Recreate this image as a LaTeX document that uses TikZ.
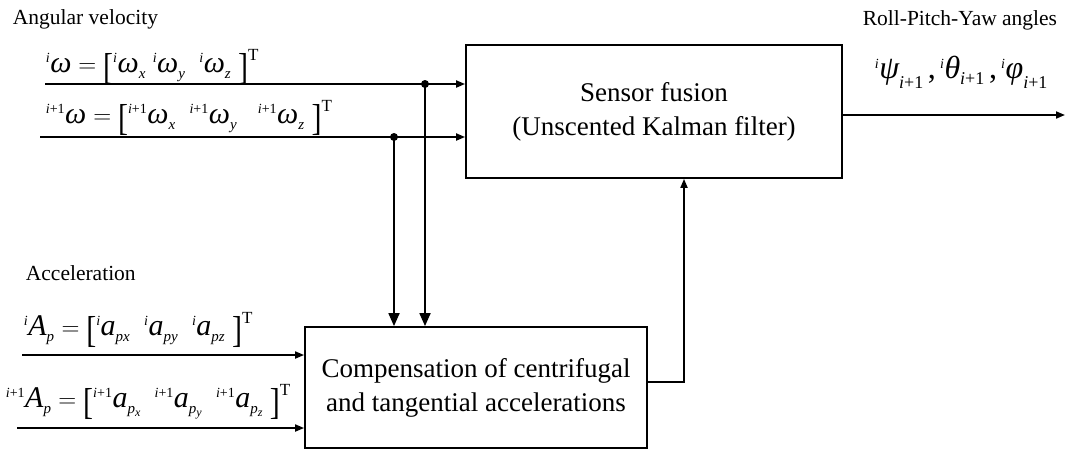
\documentclass[tikz,border=0pt]{standalone}
\usepackage{amsmath}
\usepackage{graphicx}
\usepackage{fontspec}
\setmainfont{Liberation Serif}
\usetikzlibrary{arrows.meta}
\newcommand\Ti[1]{\text{\itshape #1}}
\newcommand\Pre[1]{{}^{\text{\fontsize{14}{14}\selectfont\itshape #1}}}
\newcommand\Sb[1]{_{\raisebox{-3pt}{\fontsize{15}{15}\selectfont\itshape #1}}}
\newcommand\SSb[2]{_{\raisebox{-3pt}{\fontsize{15}{15}\selectfont\itshape #1\raisebox{-3pt}{\fontsize{12}{12}\selectfont\itshape #2}}}}
\newcommand\Tp{^{\text{\fontsize{17}{17}\selectfont T}}}
\newcommand\Ip{i\upshape+1}
\newcommand\Sbi{_{\raisebox{-3pt}{\fontsize{18}{18}\selectfont\itshape i\upshape+1}}}
\newcommand\Lb{\mathopen{\raisebox{-7pt}{\fontsize{30}{30}\selectfont\scalebox{1}[1.25]{[}}}}
\newcommand\Rb{\mathclose{\raisebox{-7pt}{\fontsize{30}{30}\selectfont\scalebox{1}[1.25]{]}}}}
\begin{document}
\begin{tikzpicture}[x=1pt,y=-1pt, line width=1.8pt,
  box/.style={draw, line width=1.8pt, align=center, font=\fontsize{27}{34}\selectfont, inner sep=0pt},
  lbl/.style={font=\fontsize{21.5}{24}\selectfont, inner sep=0pt},
  eq/.style={font=\fontsize{30}{34}\selectfont, inner sep=0pt, anchor=base west},
  sarrow/.style={-{Triangle[length=9pt,width=7pt]}},
  barrow/.style={-{Triangle[length=13pt,width=11pt]}},
  dot/.style={circle, fill, inner sep=0pt, minimum size=8pt}]
\useasboundingbox (0,0) rectangle (1073,450);
\node[box, minimum width=376pt, minimum height=133pt] (sf) at (654,111.5) {Sensor fusion\\(Unscented Kalman filter)};
\node[box, minimum width=342pt, minimum height=121pt] (comp) at (476,387.5) {Compensation of centrifugal\\and tangential accelerations};
% labels
\node[lbl, anchor=west] (av) at (12,19) {Angular velocity};
\node[lbl, anchor=west] (acc) at (25,273) {Acceleration};
\node[lbl, anchor=east] (rpy) at (1058,20) {Roll-Pitch-Yaw angles};
% equations
\node[eq] (e1) at (45,72) {$\Pre{i}\Ti{ω}=\Lb\Pre{i}\Ti{ω}\Sb{x}\;\Pre{i}\Ti{ω}\Sb{y}\;\;\Pre{i}\Ti{ω}\Sb{z}\;\Rb\Tp$};
\node[eq] (e2) at (45,123) {$\Pre{\Ip}\Ti{ω}=\Lb\Pre{\Ip}\Ti{ω}\Sb{x}\;\;\Pre{\Ip}\Ti{ω}\Sb{y}\;\;\;\Pre{\Ip}\Ti{ω}\Sb{z}\;\Rb\Tp$};
\node[eq] (e3) at (23,335) {$\Pre{i}\Ti{A}\Sb{p}=\Lb\Pre{i}\Ti{a}\Sb{px}\;\;\Pre{i}\Ti{a}\Sb{py}\;\;\Pre{i}\Ti{a}\Sb{pz}\;\Rb\Tp$};
\node[eq] (e4) at (5,407) {$\Pre{\Ip}\Ti{A}\Sb{p}=\Lb\Pre{\Ip}\Ti{a}\SSb{p}{x}\;\;\Pre{\Ip}\Ti{a}\SSb{p}{y}\;\;\Pre{\Ip}\Ti{a}\SSb{p}{z}\;\Rb\Tp$};
\node[eq, font=\fontsize{32}{36}\selectfont] (e5) at (874,78) {$\Pre{i}\Ti{ψ}\Sbi\,\text{,}\,\Pre{i}\Ti{θ}\Sbi\,\text{,}\,\Pre{i}\Ti{φ}\Sbi$};
% angular velocity inputs
\coordinate (w1) at (45,84);
\coordinate (w2) at (40,137);
\draw[sarrow] (w1) -- (w1 -| sf.west);
\draw[sarrow] (w2) -- (w2 -| sf.west);
\node[dot] (d1) at (425,84) {};
\node[dot] (d2) at (394,137) {};
\draw[barrow] (d1.center) -- (d1.center |- comp.north);
\draw[barrow] (d2.center) -- (d2.center |- comp.north);
% acceleration inputs
\coordinate (a1) at (22,355);
\coordinate (a2) at (17,428);
\draw[sarrow] (a1) -- (a1 -| comp.west);
\draw[sarrow] (a2) -- (a2 -| comp.west);
% feedback
\coordinate (fb) at (684,382);
\draw[sarrow] (fb -| comp.east) -- (fb) -- (fb |- sf.south);
% output
\coordinate (out) at (1065,115);
\draw[sarrow] (out -| sf.east) -- (out);
\end{tikzpicture}
\end{document}
